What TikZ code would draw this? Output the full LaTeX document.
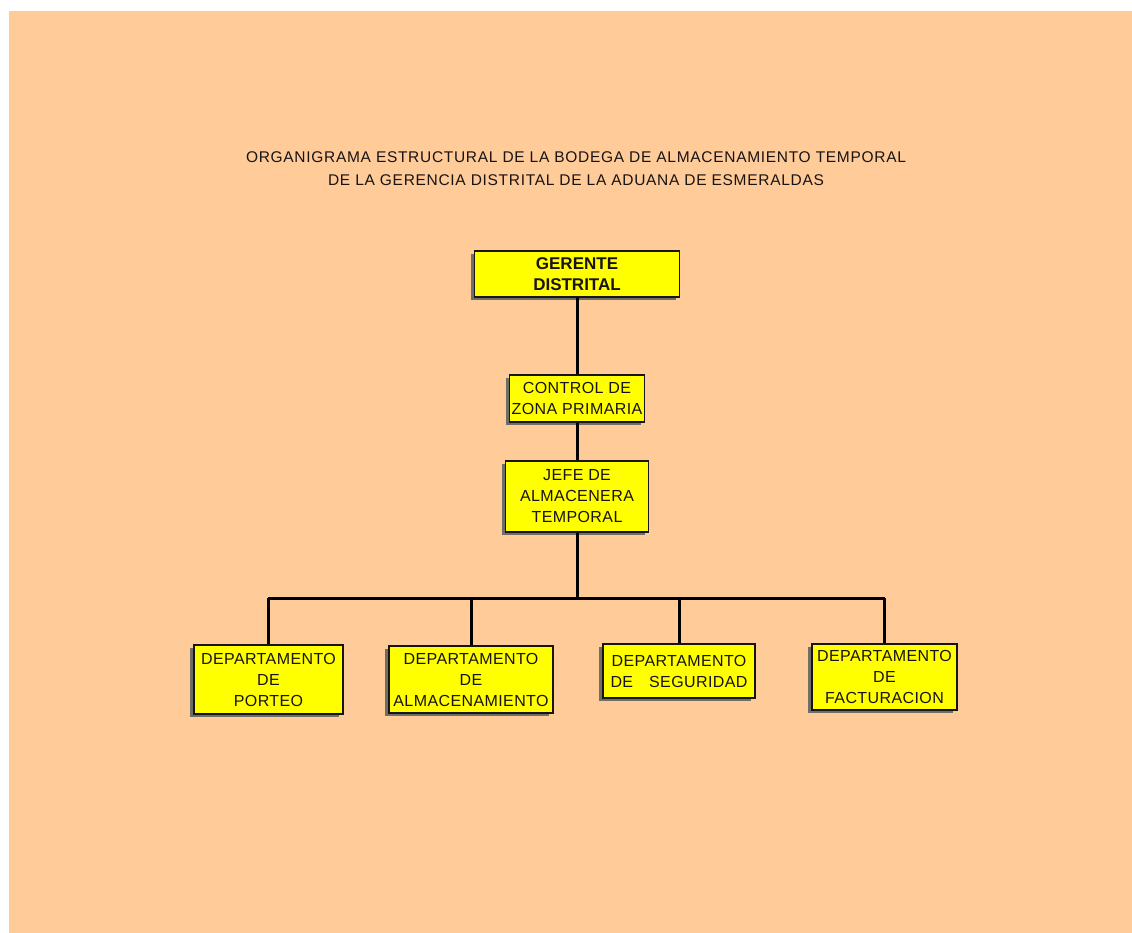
\documentclass[tikz,border=0pt]{standalone}
\usepackage{fontspec}
\setmainfont{Liberation Sans}
\newfontfamily\boxfont[LetterSpace=2.5]{Liberation Sans}
\newfontfamily\titlefont[LetterSpace=4.5]{Liberation Sans}
\newfontfamily\bossfont{Liberation Sans}
\usetikzlibrary{shadows}
\definecolor{bgorange}{RGB}{255,203,153}
\definecolor{boxyellow}{RGB}{255,255,0}
\definecolor{shadowgray}{RGB}{110,110,100}
\definecolor{inkc}{RGB}{25,20,20}
\tikzset{
  orgbox/.style={draw=inkc, line width=1.4pt, fill=boxyellow, rectangle, inner sep=0pt,
    align=center, text=inkc,
    general shadow={fill=shadowgray, shadow xshift=-4pt, shadow yshift=-3pt},
    font={\boxfont\fontsize{16}{21}\selectfont}},
  link/.style={draw=black, line width=3pt},
  titletext/.style={text=inkc, font={\titlefont\fontsize{15.5}{23}\selectfont}, align=center}
}
\begin{document}
\begin{tikzpicture}[x=1pt, y=-1pt]
\useasboundingbox (0,0) rectangle (1132,933);
\fill[white] (0,0) rectangle (1132,933);
\fill[bgorange] (9,11) rectangle (1132,933);

\node[titletext] (title) at (576,169) {ORGANIGRAMA ESTRUCTURAL DE LA BODEGA DE ALMACENAMIENTO TEMPORAL\\DE LA GERENCIA DISTRITAL DE LA ADUANA DE ESMERALDAS};

\coordinate (busL) at (269,598);
\coordinate (busR) at (883,598);

\node[orgbox, minimum width=205pt, minimum height=46pt, font={\bossfont\bfseries\fontsize{17}{21}\selectfont}] (G) at (577,274) {GERENTE\\DISTRITAL};
\node[orgbox, minimum width=135pt, minimum height=47pt] (C) at (577,398.5) {CONTROL DE\\ZONA PRIMARIA};
\node[orgbox, minimum width=143pt, minimum height=71pt] (J) at (577,496.5) {JEFE DE\\ALMACENERA\\TEMPORAL};

\node[orgbox, minimum width=149pt, minimum height=69pt] (P) at (268.5,679.5) {DEPARTAMENTO\\DE\\PORTEO};
\node[orgbox, minimum width=164pt, minimum height=67pt] (A) at (471,679.5) {DEPARTAMENTO\\DE\\ALMACENAMIENTO};
\node[orgbox, minimum width=152pt, minimum height=54pt] (S) at (679,671) {DEPARTAMENTO\\DE\quad SEGURIDAD};
\node[orgbox, minimum width=145pt, minimum height=66pt] (F) at (884.5,677) {DEPARTAMENTO\\DE\\FACTURACION};

\draw[link] (G.south) -- (C.north);
\draw[link] (C.south) -- (J.north);
\draw[link] (J.south) -- (J.south |- busL);
\draw[link, line cap=rect] (busL) -- (busR);
\draw[link] (P.north |- busL) -- (P.north);
\draw[link] (A.north |- busL) -- (A.north);
\draw[link] (S.north |- busL) -- (S.north);
\draw[link] (F.north |- busL) -- (F.north);
\end{tikzpicture}
\end{document}
